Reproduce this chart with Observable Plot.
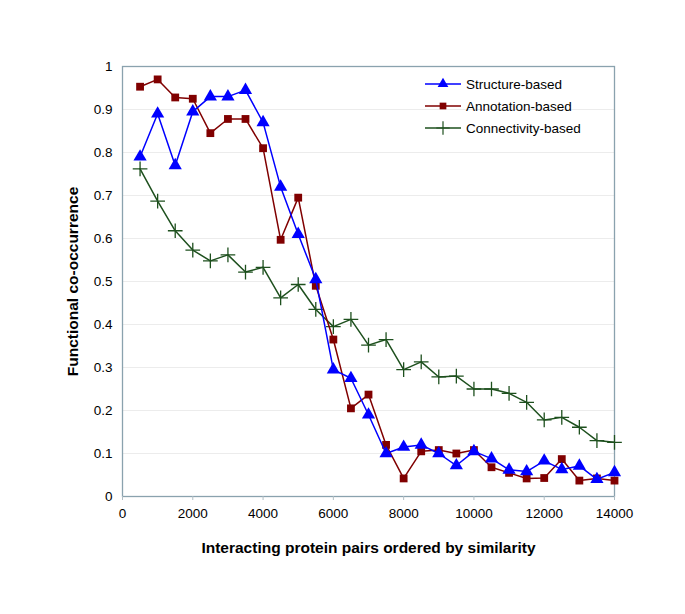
<!DOCTYPE html>
<html>
<head>
<meta charset="utf-8">
<script src="https://cdn.jsdelivr.net/npm/d3@7"></script>
<script src="https://cdn.jsdelivr.net/npm/@observablehq/plot@0.6"></script>
<style>
  html, body { margin: 0; padding: 0; background: #fff; }
  #wrap { position: relative; width: 685px; height: 614px; font-family: "Liberation Sans", Arial, sans-serif; }
  #wrap svg text { font-family: "Liberation Sans", Arial, sans-serif; }
  g[aria-label="y-axis label"] text, g[aria-label="x-axis label"] text { font-weight: bold; font-size: 15.5px; }
  #legend { position: absolute; left: 424px; top: 73px; font-size: 13.5px; color: #000; }
  #legend .row { display: flex; align-items: center; height: 22px; }
  #legend svg { margin-right: 4px; }
</style>
</head>
<body>
<div id="wrap"></div>
<script>
const xs = [500,1000,1500,2000,2500,3000,3500,4000,4500,5000,5500,6000,6500,7000,7500,8000,8500,9000,9500,10000,10500,11000,11500,12000,12500,13000,13500,14000];
const structure = [0.79,0.89,0.77,0.895,0.93,0.93,0.945,0.87,0.72,0.61,0.505,0.295,0.275,0.19,0.10,0.115,0.12,0.10,0.072,0.105,0.088,0.062,0.058,0.083,0.063,0.071,0.04,0.056];
const annotation = [0.953,0.97,0.928,0.925,0.845,0.878,0.878,0.81,0.597,0.695,0.49,0.365,0.205,0.237,0.12,0.042,0.105,0.108,0.10,0.108,0.068,0.055,0.042,0.043,0.087,0.037,0.042,0.037];
const connectivity = [0.762,0.687,0.618,0.573,0.548,0.562,0.522,0.533,0.462,0.493,0.435,0.395,0.412,0.352,0.365,0.295,0.313,0.278,0.28,0.25,0.25,0.24,0.219,0.178,0.184,0.161,0.13,0.126];
const seriesNames = ["Structure-based","Annotation-based","Connectivity-based"];
const seriesColors = ["#0000ff","#800000","#1e501e"];
const xTicks = [0,2000,4000,6000,8000,10000,12000,14000];
const yTicks = [0,0.1,0.2,0.3,0.4,0.5,0.6,0.7,0.8,0.9,1];

const mk = (vals, name) => xs.map((x, i) => ({x, y: vals[i], s: name}));
const sData = mk(structure, seriesNames[0]);
const aData = mk(annotation, seriesNames[1]);
const cData = mk(connectivity, seriesNames[2]);

const chart = Plot.plot({
  width: 685,
  height: 614,
  marginLeft: 122,
  marginRight: 71,
  marginTop: 66,
  marginBottom: 118,
  style: {fontSize: "13.5px", fontFamily: "Liberation Sans, Arial, sans-serif", color: "#000", background: "#fff"},
  x: {domain: [0, 14000]},
  y: {domain: [0, 1]},
  marks: [
    Plot.ruleY(yTicks.slice(1, -1), {stroke: "#ececec", strokeWidth: 1}),
    Plot.frame({stroke: "#8aa2ae", strokeWidth: 1.3}),
    Plot.axisX({ticks: xTicks, tickFormat: d => String(d), tickSize: 4, tickPadding: 8, stroke: "#b0bec5",
      label: "Interacting protein pairs ordered by similarity", labelAnchor: "center", labelArrow: "none", labelOffset: 56}),
    Plot.axisY({ticks: yTicks, tickFormat: d => String(+d.toFixed(1)), tickSize: 0, tickPadding: 10,
      label: "Functional co-occurrence", labelAnchor: "center", labelArrow: "none", labelOffset: 56}),
    Plot.line(cData, {x: "x", y: "y", stroke: seriesColors[2], strokeWidth: 1.5}),
    Plot.dot(cData, {x: "x", y: "y", symbol: "plus", r: 4.8, stroke: seriesColors[2], strokeWidth: 1.3}),
    Plot.line(aData, {x: "x", y: "y", stroke: seriesColors[1], strokeWidth: 1.5}),
    Plot.dot(aData, {x: "x", y: "y", symbol: "square", r: 4.4, fill: seriesColors[1], stroke: "none"}),
    Plot.line(sData, {x: "x", y: "y", stroke: seriesColors[0], strokeWidth: 1.5}),
    Plot.dot(sData, {x: "x", y: "y", symbol: "triangle", r: 4.9, fill: seriesColors[0], stroke: "none"})
  ]
});
const wrap = document.getElementById("wrap");
wrap.appendChild(chart);

// Legend
const legend = document.createElement("div");
legend.id = "legend";
seriesNames.forEach((name, i) => {
  const row = document.createElement("div");
  row.className = "row";
  const svg = d3.create("svg").attr("width", 38).attr("height", 16);
  svg.append("line").attr("x1", 1).attr("x2", 37).attr("y1", 8).attr("y2", 8)
    .attr("stroke", seriesColors[i]).attr("stroke-width", 1.5);
  const symType = i === 0 ? d3.symbolTriangle : i === 1 ? d3.symbolSquare : d3.symbolPlus;
  const size = i === 0 ? 50 : i === 1 ? 45 : 60;
  const p = svg.append("path").attr("d", d3.symbol(symType, size)()).attr("transform", "translate(19,8)");
  if (i === 2) p.attr("fill", "none").attr("stroke", seriesColors[i]).attr("stroke-width", 1.2);
  else p.attr("fill", seriesColors[i]);
  row.appendChild(svg.node());
  const t = document.createElement("span");
  t.textContent = name;
  row.appendChild(t);
  legend.appendChild(row);
});
wrap.appendChild(legend);
</script>
</body>
</html>
